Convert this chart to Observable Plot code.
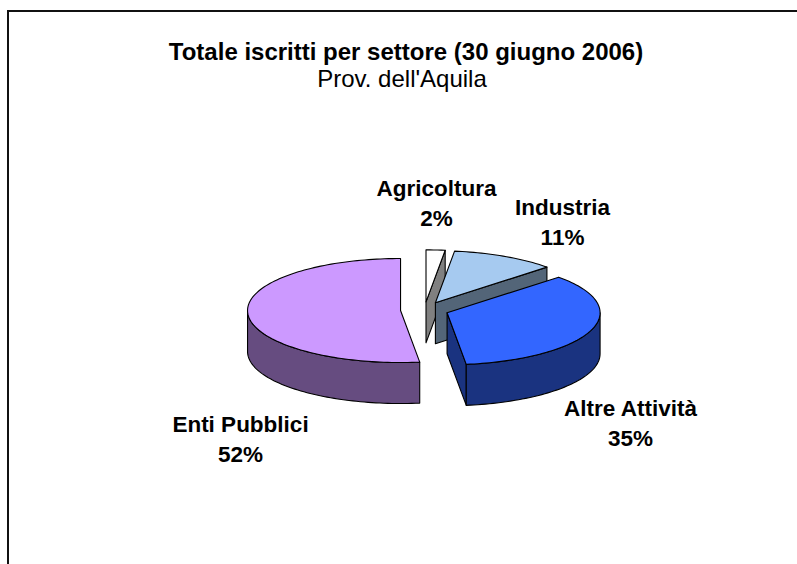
<!DOCTYPE html>
<html><head><meta charset="utf-8">
<script src="https://cdn.jsdelivr.net/npm/d3@7"></script>
<script src="https://cdn.jsdelivr.net/npm/@observablehq/plot@0.6"></script>
<style>
html,body{margin:0;padding:0;background:#fff;width:797px;height:564px;overflow:hidden;}
#frame{position:absolute;left:7px;top:10px;width:830px;height:600px;border-left:2px solid #111;border-top:2px solid #111;box-sizing:border-box;}
#chart{position:absolute;left:0;top:0;}
</style></head><body>
<div id="frame"></div>
<div id="chart"></div>
<script>
// ---- data ----
const categories = ["Agricoltura", "Industria", "Altre Attività", "Enti Pubblici"];
const values = [2, 11, 35, 52];
const topColors = ["#FFFFFF", "#A6CAF0", "#3366FF", "#CC99FF"];
const sideColors = ["#808080", "#536578", "#1A3380", "#664C80"];
const title = "Totale iscritti per settore (30 giugno 2006)";
const subtitle = "Prov. dell'Aquila";

// ---- layout (pixel space of the plot) ----
const W = 797, H = 564;
const cx = 424, cy = 309.5, rx = 153, ry = 52, depth = 41, explode = 24 / 153;
// label anchor positions (layout, not data)
const labelLayout = [[436, 201], [562, 220], [630, 421], [240, 437]];

const total = d3.sum(values);
const rad = a => a * Math.PI / 180;
let acc = 0;
const slices = values.map((v, i) => {
  const a0 = acc / total * 360; acc += v; const a1 = acc / total * 360;
  const m = (a0 + a1) / 2;
  const ox = cx + explode * rx * Math.sin(rad(m));
  const oy = cy - explode * ry * Math.cos(rad(m));
  return {i, a0, a1, ox, oy};
});
const pt = (s, a, dz = 0) => [s.ox + rx * Math.sin(rad(a)), s.oy - ry * Math.cos(rad(a)) + dz];
const arc = (s, a0, a1, dz = 0) => {
  const n = Math.max(2, Math.ceil((a1 - a0) / 1.5));
  return d3.range(n + 1).map(k => pt(s, a0 + (a1 - a0) * k / n, dz));
};

const polys = [];
[...slices].sort((p, q) => p.oy - q.oy).forEach(s => {
  const c = [s.ox, s.oy], cd = [s.ox, s.oy + depth];
  const faceVisible = n => -Math.cos(rad(n)) > 0.01;
  if (faceVisible(s.a0 - 90)) {
    const p = pt(s, s.a0);
    polys.push({fill: sideColors[s.i], pts: [c, p, [p[0], p[1] + depth], cd]});
  }
  if (faceVisible(s.a1 + 90)) {
    const p = pt(s, s.a1);
    polys.push({fill: sideColors[s.i], pts: [c, p, [p[0], p[1] + depth], cd]});
  }
  const b0 = Math.max(s.a0, 90), b1 = Math.min(s.a1, 270);
  if (b1 > b0) {
    polys.push({fill: sideColors[s.i], pts: [...arc(s, b0, b1), ...arc(s, b0, b1, depth).reverse()]});
  }
  polys.push({fill: topColors[s.i], pts: [c, ...arc(s, s.a0, s.a1)]});
});

const polyMarks = polys.map(p => {
  const pts = [...p.pts, p.pts[0]];
  return Plot.line(pts, {x: d => d[0], y: d => d[1], fill: p.fill, stroke: "#000",
    strokeWidth: 1.1, strokeLinejoin: "round", curve: "linear"});
});

const labels = categories.map((c, i) => ({
  text: `${c}\n${Math.round(values[i] / total * 100)}%`,
  x: labelLayout[i][0], y: labelLayout[i][1]
}));

const chart = Plot.plot({
  width: W, height: H,
  margin: 0,
  x: {domain: [0, W], range: [0, W], axis: null},
  y: {domain: [0, H], range: [0, H], axis: null},
  style: {fontFamily: "'Liberation Sans', Arial, sans-serif", background: "transparent", overflow: "visible"},
  marks: [
    ...polyMarks,
    Plot.text(labels, {x: "x", y: "y", text: "text", fontSize: 22.5, fontWeight: "bold",
      lineAnchor: "middle", lineHeight: 1.33, fill: "#000"}),
    Plot.text([title], {frameAnchor: "top", dx: 7, dy: 42, lineAnchor: "top", fontSize: 24, fontWeight: "bold", fill: "#000"}),
    Plot.text([subtitle], {frameAnchor: "top", dx: 3, dy: 69, lineAnchor: "top", fontSize: 24, fill: "#000"})
  ]
});
document.getElementById("chart").appendChild(chart);
</script>
</body></html>
